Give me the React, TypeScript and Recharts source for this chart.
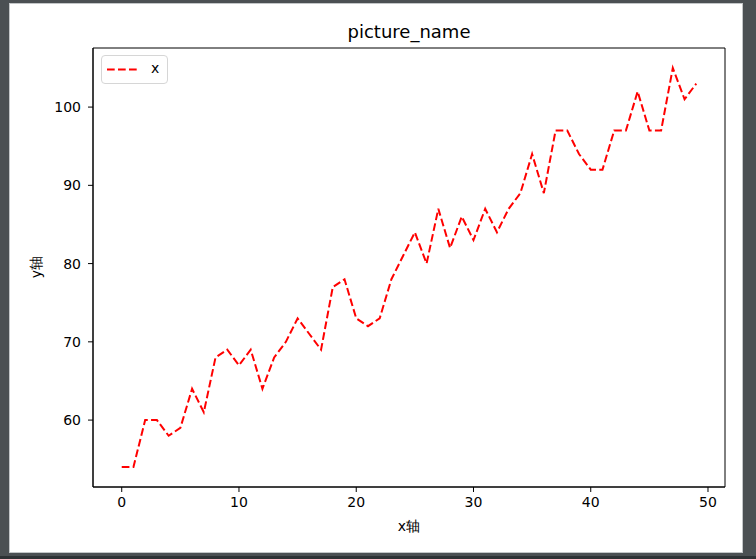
import React from "react";
import { LineChart, Line, XAxis, YAxis, ReferenceArea, Legend } from "recharts";

const xValues = [
  0, 1, 2, 3, 4, 5, 6, 7, 8, 9, 10, 11, 12, 13, 14, 15, 16, 17, 18, 19, 20, 21, 22, 23, 24,
  25, 26, 27, 28, 29, 30, 31, 32, 33, 34, 35, 36, 37, 38, 39, 40, 41, 42, 43, 44, 45, 46, 47, 48, 49,
];
const yValues = [
  54, 54, 60, 60, 58, 59, 64, 61, 68, 69, 67, 69, 64, 68, 70, 73, 71, 69, 77, 78, 73, 72, 73, 78, 81,
  84, 80, 87, 82, 86, 83, 87, 84, 87, 89, 94, 89, 97, 97, 94, 92, 92, 97, 97, 102, 97, 97, 105, 101, 103,
];
const xTicks = [0, 10, 20, 30, 40, 50];
const yTicks = [60, 70, 80, 90, 100];
const seriesName = "x";
const titleText = "picture_name";
const xLabel = "x轴";
const yLabel = "y轴";

const data = xValues.map((x, i) => ({ x, y: yValues[i] }));

const xDomain: [number, number] = [-2.45, 51.45];
const yDomain: [number, number] = [51.45, 107.55];

const FONT = "'DejaVu Sans', sans-serif";

const LegendBox = (props: any) => {
  const item = (props.payload && props.payload[0]) || { value: seriesName, color: "#ff0000" };
  return (
    <div
      style={{
        width: 65,
        height: 27,
        border: "1px solid #d6d6d6",
        borderRadius: 4,
        background: "rgba(255,255,255,0.8)",
        position: "relative",
        fontFamily: FONT,
        fontSize: 14,
        color: "#000",
      }}
    >
      <svg width={40} height={27} style={{ position: "absolute", left: 0, top: 0 }}>
        <line x1={5} x2={38} y1={13.5} y2={13.5} stroke="#ff0000" strokeWidth={2} strokeDasharray="7.7 3.3" />
      </svg>
      <span style={{ position: "absolute", left: 49, top: 4, lineHeight: "17px" }}>{item.value}</span>
    </div>
  );
};

export default function App() {
  return (
    <div style={{ position: "absolute", left: 0, top: 0, width: 756, height: 559, background: "#4b5053", overflow: "hidden" }}>
      <div style={{ position: "absolute", left: 0, top: 556, width: 756, height: 3, background: "#2e3235" }} />
      <div
        style={{
          position: "absolute",
          left: 9,
          top: 3,
          width: 732,
          height: 548,
          background: "#ffffff",
          border: "1px solid #c3c6c8",
        }}
      />
      <div
        style={{
          position: "absolute",
          left: 409,
          top: 31,
          transform: "translate(-50%, -50%)",
          fontFamily: FONT,
          fontSize: 18,
          color: "#000",
          whiteSpace: "nowrap",
        }}
      >
        {titleText}
      </div>
      <div
        style={{
          position: "absolute",
          left: 409,
          top: 527,
          transform: "translate(-50%, -50%)",
          fontFamily: FONT,
          fontSize: 14,
          color: "#000",
          whiteSpace: "nowrap",
        }}
      >
        {xLabel}
      </div>
      <div
        style={{
          position: "absolute",
          left: 37,
          top: 267,
          transform: "translate(-50%, -50%) rotate(-90deg)",
          fontFamily: FONT,
          fontSize: 14,
          color: "#000",
          whiteSpace: "nowrap",
        }}
      >
        {yLabel}
      </div>
      <div style={{ position: "absolute", left: 0, top: 0 }}>
        <LineChart width={756} height={559} data={data} margin={{ top: 48, right: 31, bottom: 13, left: 33 }}>
          <XAxis
            dataKey="x"
            type="number"
            domain={xDomain}
            ticks={xTicks}
            allowDataOverflow
            height={30}
            tickSize={5}
            tickMargin={5}
            stroke="#000"
            tick={{ fill: "#000", fontSize: 14, fontFamily: FONT }}
            tickLine={{ stroke: "#000", strokeWidth: 1 }}
            axisLine={{ stroke: "#000", strokeWidth: 1 }}
            interval={0}
          />
          <YAxis
            type="number"
            domain={yDomain}
            ticks={yTicks}
            allowDataOverflow
            width={60}
            tickSize={5}
            tickMargin={7}
            stroke="#000"
            tick={{ fill: "#000", fontSize: 14, fontFamily: FONT }}
            tickLine={{ stroke: "#000", strokeWidth: 1 }}
            axisLine={{ stroke: "#000", strokeWidth: 1 }}
            interval={0}
          />
          <ReferenceArea
            x1={xDomain[0]}
            x2={xDomain[1]}
            y1={yDomain[0]}
            y2={yDomain[1]}
            fill="none"
            fillOpacity={0}
            stroke="#000"
            strokeWidth={1}
            ifOverflow="visible"
          />
          <Legend
            content={<LegendBox />}
            wrapperStyle={{ position: "absolute", left: 101, top: 55, width: 67, height: 29 }}
          />
          <Line
            type="linear"
            dataKey="y"
            name={seriesName}
            stroke="#ff0000"
            strokeWidth={2}
            strokeDasharray="7.7 3.3"
            dot={false}
            activeDot={false}
            isAnimationActive={false}
          />
        </LineChart>
      </div>
    </div>
  );
}
